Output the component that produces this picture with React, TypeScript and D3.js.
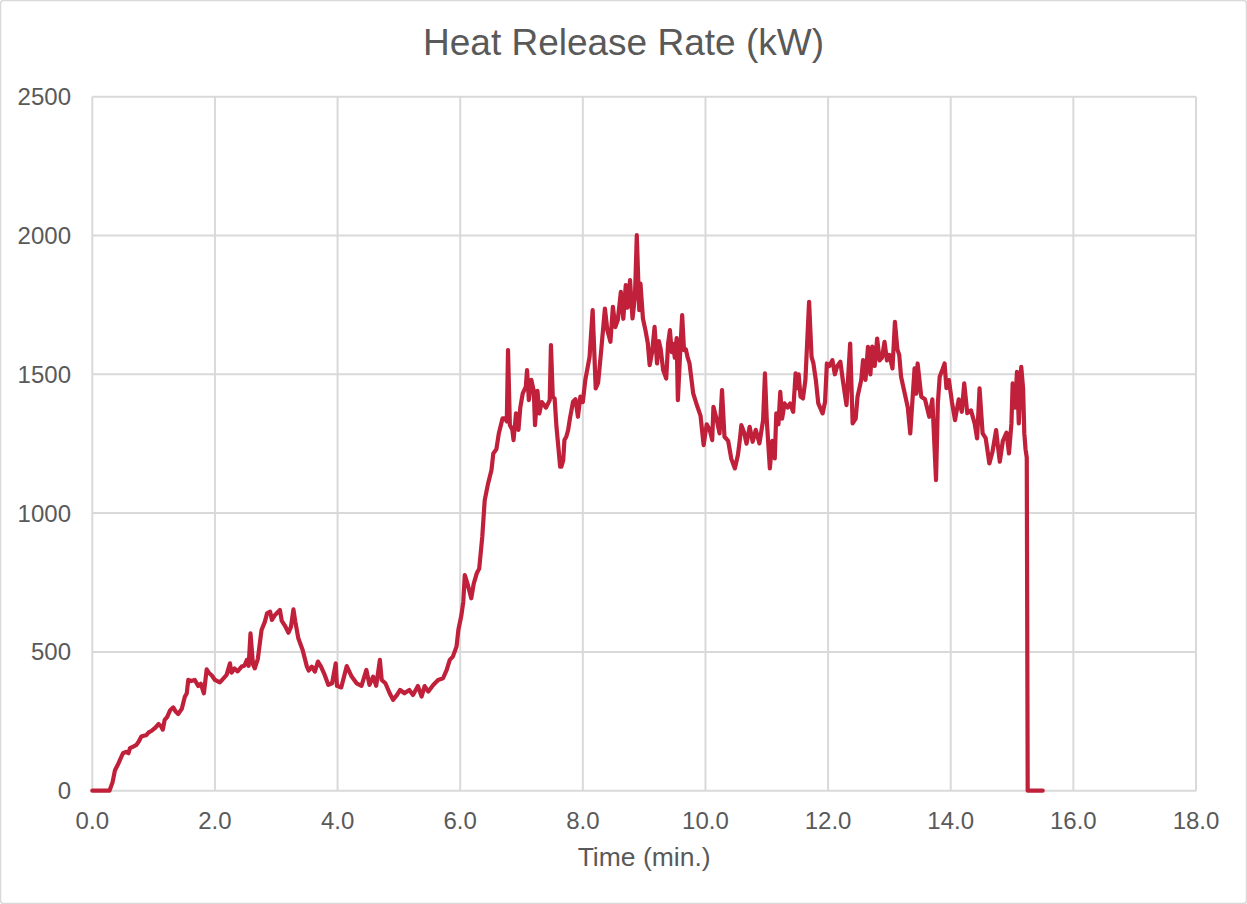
import React from "react";
import * as d3 from "d3";

const TITLE = "Heat Release Rate (kW)";
const X_TITLE = "Time (min.)";
const X_TICKS = [0, 2, 4, 6, 8, 10, 12, 14, 16, 18];
const Y_TICKS = [0, 500, 1000, 1500, 2000, 2500];

// Time (min.)
const TIME = [
  0, 0.28, 0.33, 0.37, 0.42, 0.45, 0.5, 0.55, 0.59, 0.615, 0.66, 0.72, 0.76, 0.8, 0.84, 0.88, 0.92, 0.97,
  1.02, 1.08, 1.12, 1.15, 1.18, 1.22, 1.27, 1.32, 1.36, 1.4, 1.46, 1.51, 1.54, 1.565, 1.61, 1.67, 1.73,
  1.77, 1.82, 1.865, 1.9, 1.95, 2.0, 2.08, 2.14, 2.19, 2.245, 2.27, 2.32, 2.37, 2.435, 2.48, 2.52, 2.55,
  2.58, 2.62, 2.65, 2.7, 2.76, 2.815, 2.85, 2.9, 2.93, 2.98, 3.06, 3.09, 3.14, 3.2, 3.24, 3.28, 3.31,
  3.36, 3.43, 3.5, 3.53, 3.58, 3.63, 3.68, 3.73, 3.79, 3.85, 3.91, 3.97, 3.99, 4.06, 4.15, 4.23, 4.31,
  4.39, 4.47, 4.52, 4.58, 4.63, 4.69, 4.72, 4.78, 4.85, 4.905, 4.97, 5.02, 5.09, 5.17, 5.23, 5.31, 5.37,
  5.42, 5.48, 5.56, 5.64, 5.72, 5.78, 5.83, 5.88, 5.94, 5.97,
  6.02, 6.05, 6.075, 6.12, 6.18, 6.22, 6.27, 6.31, 6.36, 6.4, 6.455, 6.51, 6.54, 6.59, 6.63, 6.69, 6.73,
  6.76, 6.78, 6.81, 6.85, 6.87, 6.91, 6.95, 6.98, 7.02, 7.07, 7.09, 7.12, 7.16, 7.2, 7.22, 7.26, 7.29,
  7.33, 7.4, 7.46, 7.48, 7.51, 7.54, 7.57, 7.6, 7.63, 7.65, 7.68, 7.7, 7.73, 7.76, 7.79, 7.84, 7.88,
  7.92, 7.96, 8.0, 8.04,
  8.07, 8.11, 8.16, 8.21, 8.25, 8.3, 8.36, 8.4, 8.45, 8.49, 8.53, 8.57, 8.62, 8.66, 8.7, 8.73, 8.77,
  8.81, 8.85, 8.88, 8.92, 8.94, 8.98, 9.02, 9.06, 9.09, 9.13, 9.17, 9.21, 9.24, 9.27, 9.31, 9.36, 9.39,
  9.42, 9.45, 9.47, 9.5, 9.53, 9.55, 9.59, 9.62, 9.65, 9.68, 9.71, 9.74, 9.8, 9.86, 9.92, 9.97, 10.02,
  10.07, 10.11, 10.13, 10.18, 10.23, 10.27, 10.31, 10.37, 10.42, 10.48, 10.53, 10.56, 10.585, 10.63,
  10.67, 10.72,
  10.77, 10.82, 10.88, 10.94, 10.97, 11.0, 11.05, 11.09, 11.13, 11.155, 11.19, 11.22, 11.25, 11.29,
  11.34, 11.38, 11.43, 11.47, 11.5, 11.52, 11.55, 11.59, 11.63, 11.69, 11.73, 11.76, 11.8, 11.84, 11.91,
  11.95, 11.98, 12.02, 12.07, 12.11, 12.15, 12.2, 12.24, 12.3, 12.36, 12.4, 12.45, 12.48, 12.54, 12.57,
  12.61, 12.65, 12.69, 12.72, 12.76, 12.8, 12.84, 12.88, 12.92, 12.96, 13.0, 13.05, 13.09, 13.13, 13.16,
  13.19, 13.25, 13.3, 13.34, 13.41, 13.44, 13.46, 13.52, 13.58, 13.65, 13.7, 13.76, 13.79, 13.82, 13.87,
  13.9, 13.93, 13.97, 14.02, 14.07, 14.13, 14.18, 14.22, 14.27, 14.33, 14.39, 14.43, 14.47, 14.52,
  14.57, 14.63, 14.68, 14.74, 14.77, 14.8, 14.85, 14.91, 14.95, 14.99, 15.01, 15.05, 15.08, 15.11,
  15.15, 15.18, 15.2, 15.22, 15.24, 15.255, 15.5,
];

// Heat release rate (kW)
const HRR = [
  0, 0, 30, 74, 95, 110, 135, 140, 135, 153, 158, 165, 178, 195, 198, 200, 210, 216,
  225, 240, 232, 220, 255, 265, 290, 300, 285, 276, 295, 339, 350, 399, 395, 399, 377,
  385, 351, 437, 425, 415, 399, 390, 405, 417, 459, 425, 440, 430, 447, 450, 471, 450,
  567, 456, 441, 475, 579, 609, 639, 645, 615, 633, 651, 612, 595, 569, 590, 653, 610,
  549, 507, 447, 433, 447, 429, 465, 447, 417, 381, 387, 459, 378, 372, 449, 411, 387,
  378, 435, 381, 411, 378, 471, 399, 387, 351, 327, 345, 363, 351, 363, 345, 377, 339,
  377, 357, 381, 399, 405, 435, 471, 483, 519, 579,
  633, 680, 777, 745, 693, 745, 783, 800, 915, 1047, 1107, 1155, 1215, 1230, 1287, 1341, 1341,
  1330, 1587, 1317, 1300, 1263, 1359, 1300, 1380, 1431, 1455, 1515, 1407, 1480, 1440, 1317, 1440, 1359,
  1400, 1380, 1407, 1605, 1419, 1413, 1311, 1240, 1167, 1167, 1190, 1263, 1275, 1299, 1341, 1401, 1410,
  1347, 1420, 1400, 1479,
  1515, 1563, 1731, 1449, 1470, 1587, 1737, 1659, 1617, 1743, 1670, 1695, 1797, 1700, 1821, 1740, 1839,
  1701, 1780, 2001, 1731, 1827, 1701, 1660, 1611, 1533, 1580, 1671, 1539, 1620, 1590, 1515, 1485, 1610,
  1659, 1580, 1610, 1560, 1630, 1407, 1590, 1713, 1587, 1590, 1560, 1539, 1431, 1389, 1350, 1245, 1320,
  1299, 1263, 1383, 1340, 1287, 1443, 1275, 1260, 1197, 1161, 1210, 1263, 1317, 1290,
  1250, 1311,
  1257, 1300, 1251, 1335, 1503, 1335, 1161, 1260, 1197, 1359, 1320, 1437, 1340, 1395,
  1380, 1395, 1365, 1503, 1450, 1500, 1420, 1413, 1480, 1761, 1563, 1540, 1479, 1395, 1359,
  1400, 1539, 1530, 1551, 1500, 1530, 1545, 1479, 1389, 1611, 1323, 1340, 1419, 1479, 1551,
  1480, 1599, 1500, 1600, 1530, 1629, 1550, 1560, 1617, 1550, 1570, 1521, 1689, 1590, 1570,
  1491, 1431, 1380, 1287, 1521, 1430, 1539, 1419, 1410, 1347, 1410, 1119, 1395, 1491, 1520,
  1539, 1450, 1479, 1400, 1335, 1410, 1365, 1467, 1360, 1370, 1323, 1269, 1449, 1287,
  1270, 1179, 1220, 1299, 1240, 1185, 1260, 1290, 1215, 1323, 1467, 1380, 1509, 1323,
  1527, 1450, 1287, 1230, 1200, 0, 0,
];

const W = 1247;
const H = 904;
const FONT = "'Liberation Sans', Arial, sans-serif";
const TEXT = "#595959";
const GRID = "#d9d9d9";
const LINE = "#c0203a";

export default function App() {
  const x = d3.scaleLinear().domain([0, 18]).range([92.3, 1196]);
  const y = d3.scaleLinear().domain([0, 2500]).range([790.7, 96.7]);
  const pts: [number, number][] = TIME.map((t, i) => [t, HRR[i]]);
  const line = d3
    .line<[number, number]>()
    .x((d) => x(d[0]))
    .y((d) => y(d[1]))
    .curve(d3.curveLinear);

  return (
    <svg
      width={W}
      height={H}
      style={{ position: "absolute", left: 0, top: 0, background: "#fff" }}
      fontFamily={FONT}
    >
      <rect x={0.5} y={0.5} width={W - 1} height={H - 1} rx={3} fill="#fff" stroke={GRID} strokeWidth={1.5} />
      <text x={W / 2} y={55} textAnchor="middle" fontSize={37} fill={TEXT}>
        {TITLE}
      </text>
      {Y_TICKS.map((v) => (
        <g key={"y" + v}>
          <line x1={x(0)} x2={x(18)} y1={y(v)} y2={y(v)} stroke={GRID} strokeWidth={2} />
          <text x={71} y={y(v)} dy="0.35em" textAnchor="end" fontSize={24} fill={TEXT}>
            {v}
          </text>
        </g>
      ))}
      {X_TICKS.map((t) => (
        <g key={"x" + t}>
          <line x1={x(t)} x2={x(t)} y1={y(0)} y2={y(2500)} stroke={GRID} strokeWidth={2} />
          <text x={x(t)} y={828.5} textAnchor="middle" fontSize={24} fill={TEXT}>
            {t.toFixed(1)}
          </text>
        </g>
      ))}
      <path d={line(pts) || ""} fill="none" stroke={LINE} strokeWidth={4.2} strokeLinejoin="round" strokeLinecap="round" />
      <text x={(x(0) + x(18)) / 2} y={866} textAnchor="middle" fontSize={26.5} fill={TEXT}>
        {X_TITLE}
      </text>
    </svg>
  );
}
